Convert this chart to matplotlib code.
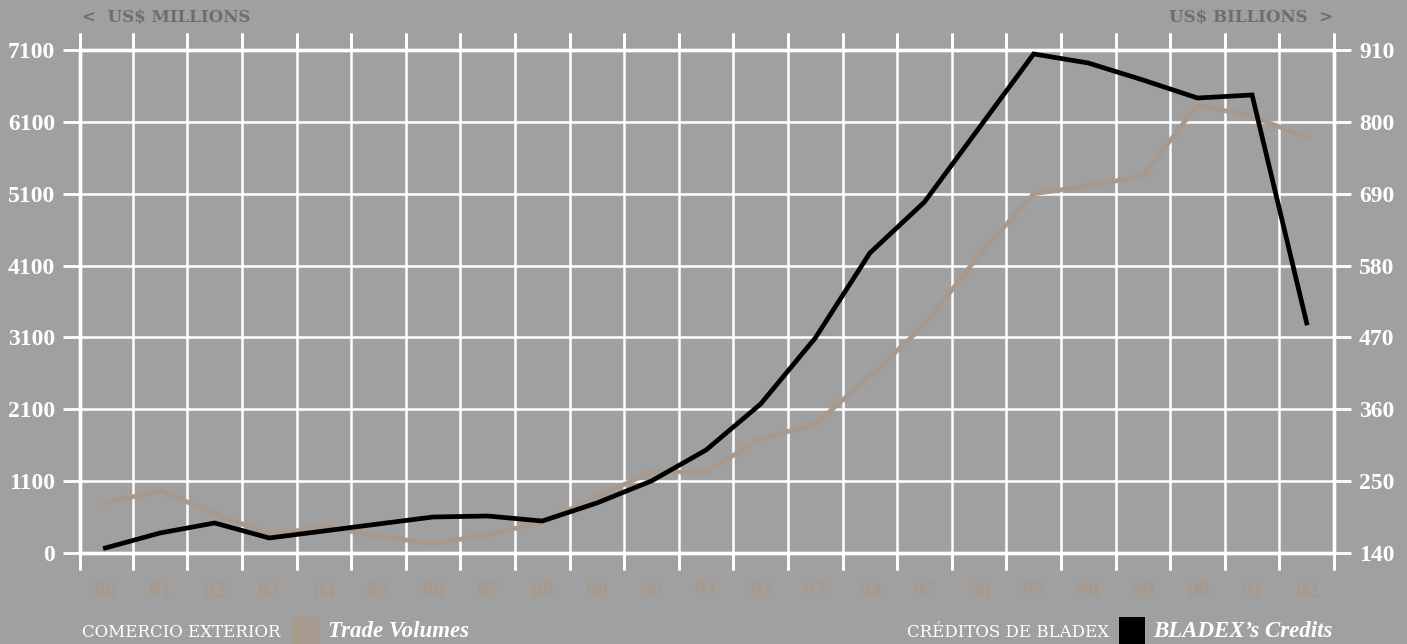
import matplotlib
matplotlib.use("Agg")
import matplotlib.pyplot as plt
from matplotlib.patches import Rectangle
import numpy as np

# annual series, 1980-2002
years = ["80", "81", "82", "83", "84", "85", "86", "87", "88", "89", "90", "91",
         "92", "93", "94", "95", "96", "97", "98", "99", "00", "01", "02"]
# BLADEX credits, US$ millions (left scale)
credits = [170, 378, 518, 309, 406, 504, 601, 615, 545, 796, 1102, 1533,
           2174, 3092, 4275, 4985, 6015, 7045, 6919, 6683, 6432, 6474, 3301]
# foreign trade volumes, US$ billions (right scale)
trade = [217, 235, 201, 168, 180, 166, 154, 168, 187, 226, 264, 264,
         315, 337, 411, 489, 596, 690, 702, 717, 826, 808, 777]

left_ticks = [100, 1100, 2100, 3100, 4100, 5100, 6100, 7100]
left_labels = ["0", "1100", "2100", "3100", "4100", "5100", "6100", "7100"]
right_ticks = [140, 250, 360, 470, 580, 690, 800, 910]

BG = "#a0a0a0"
TAN = "#a8998c"
SERIF = "Liberation Serif"
WIDE = "DejaVu Serif"

W, H = 1407, 644
fig = plt.figure(figsize=(W / 100, H / 100), dpi=100, facecolor=BG)
ax = fig.add_axes([80 / W, 1 - 553 / H, (1334 - 80) / W, (553 - 50) / H])
ax2 = ax.twinx()
ax2.xaxis.set_visible(True)
ax.set_zorder(2)
ax2.set_zorder(1)
ax.patch.set_visible(False)
ax2.patch.set_visible(True)
ax2.patch.set_facecolor(BG)

x = np.arange(len(years))
ax.plot(x, credits, color="black", lw=3.4, solid_joinstyle="miter", zorder=5)
ax2.plot(x, trade, color=TAN, lw=3.4, solid_joinstyle="miter", zorder=5)

ax.set_xlim(-0.465, len(years) - 0.5)
ax.set_ylim(100, 7100)
ax2.set_ylim(140, 910)

# year labels sit in the cells, white lines mark the boundaries
ax.set_xticks(x)
ax.set_xticklabels(years, family=SERIF, fontweight="bold", fontsize=17, color=TAN)
minor = list(np.arange(len(years) - 1) + 0.5) + [-0.465, len(years) - 0.5]
ax.set_xticks(minor, minor=True)
for a in (ax, ax2):
    a.tick_params(axis="x", which="major", length=0, pad=20)
    a.tick_params(axis="x", which="minor", length=12, width=2, color="white",
                  direction="out", top=True, bottom=True)
ax2.tick_params(axis="x", which="major", labelbottom=False)
ax2.grid(True, axis="x", which="minor", color="white", lw=1.8)
ax2.grid(True, axis="y", which="major", color="white", lw=1.8)
ax2.set_axisbelow(True)

ax.set_yticks(left_ticks)
ax.set_yticklabels(left_labels, family=SERIF, fontweight="bold", fontsize=17,
                   color="white")
ax.tick_params(axis="y", length=12, width=2, color="white", pad=6)

ax2.set_yticks(right_ticks)
ax2.set_yticklabels([str(v) for v in right_ticks], family=SERIF,
                    fontweight="bold", fontsize=17, color="white")
ax2.tick_params(axis="y", length=12, width=2, color="white", pad=6)

for a in (ax, ax2):
    for s in a.spines.values():
        s.set_color("white")
        s.set_linewidth(2.4)

def px(xp, yp):
    return xp / W, 1 - yp / H

# scale captions
fig.text(*px(82, 17), "<  US$ MILLIONS", family=WIDE, fontweight="bold",
         fontsize=12, color="#6e6e6e", ha="left", va="center")
fig.text(*px(1333, 17), "US$ BILLIONS  >", family=WIDE, fontweight="bold",
         fontsize=12, color="#6e6e6e", ha="right", va="center")

# legend
fig.text(*px(82, 637), "COMERCIO EXTERIOR", family=WIDE, fontsize=12,
         color="white", ha="left", va="baseline")
fig.patches.append(Rectangle(px(293, 644), 26 / W, 27 / H, transform=fig.transFigure,
                             facecolor=TAN, edgecolor="none"))
fig.text(*px(328, 637), "Trade Volumes", family=SERIF, fontweight="bold",
         style="italic", fontsize=16.5, color="white", ha="left", va="baseline")

fig.text(*px(1109, 637), "CRÉDITOS DE BLADEX", family=WIDE, fontsize=12,
         color="white", ha="right", va="baseline")
fig.patches.append(Rectangle(px(1119, 644), 26 / W, 27 / H, transform=fig.transFigure,
                             facecolor="black", edgecolor="none"))
fig.text(*px(1153, 637), "BLADEX\u2019s Credits", family=SERIF, fontweight="bold",
         style="italic", fontsize=16.5, color="white", ha="left", va="baseline")

fig.savefig("out.png", dpi=100, facecolor=BG)
